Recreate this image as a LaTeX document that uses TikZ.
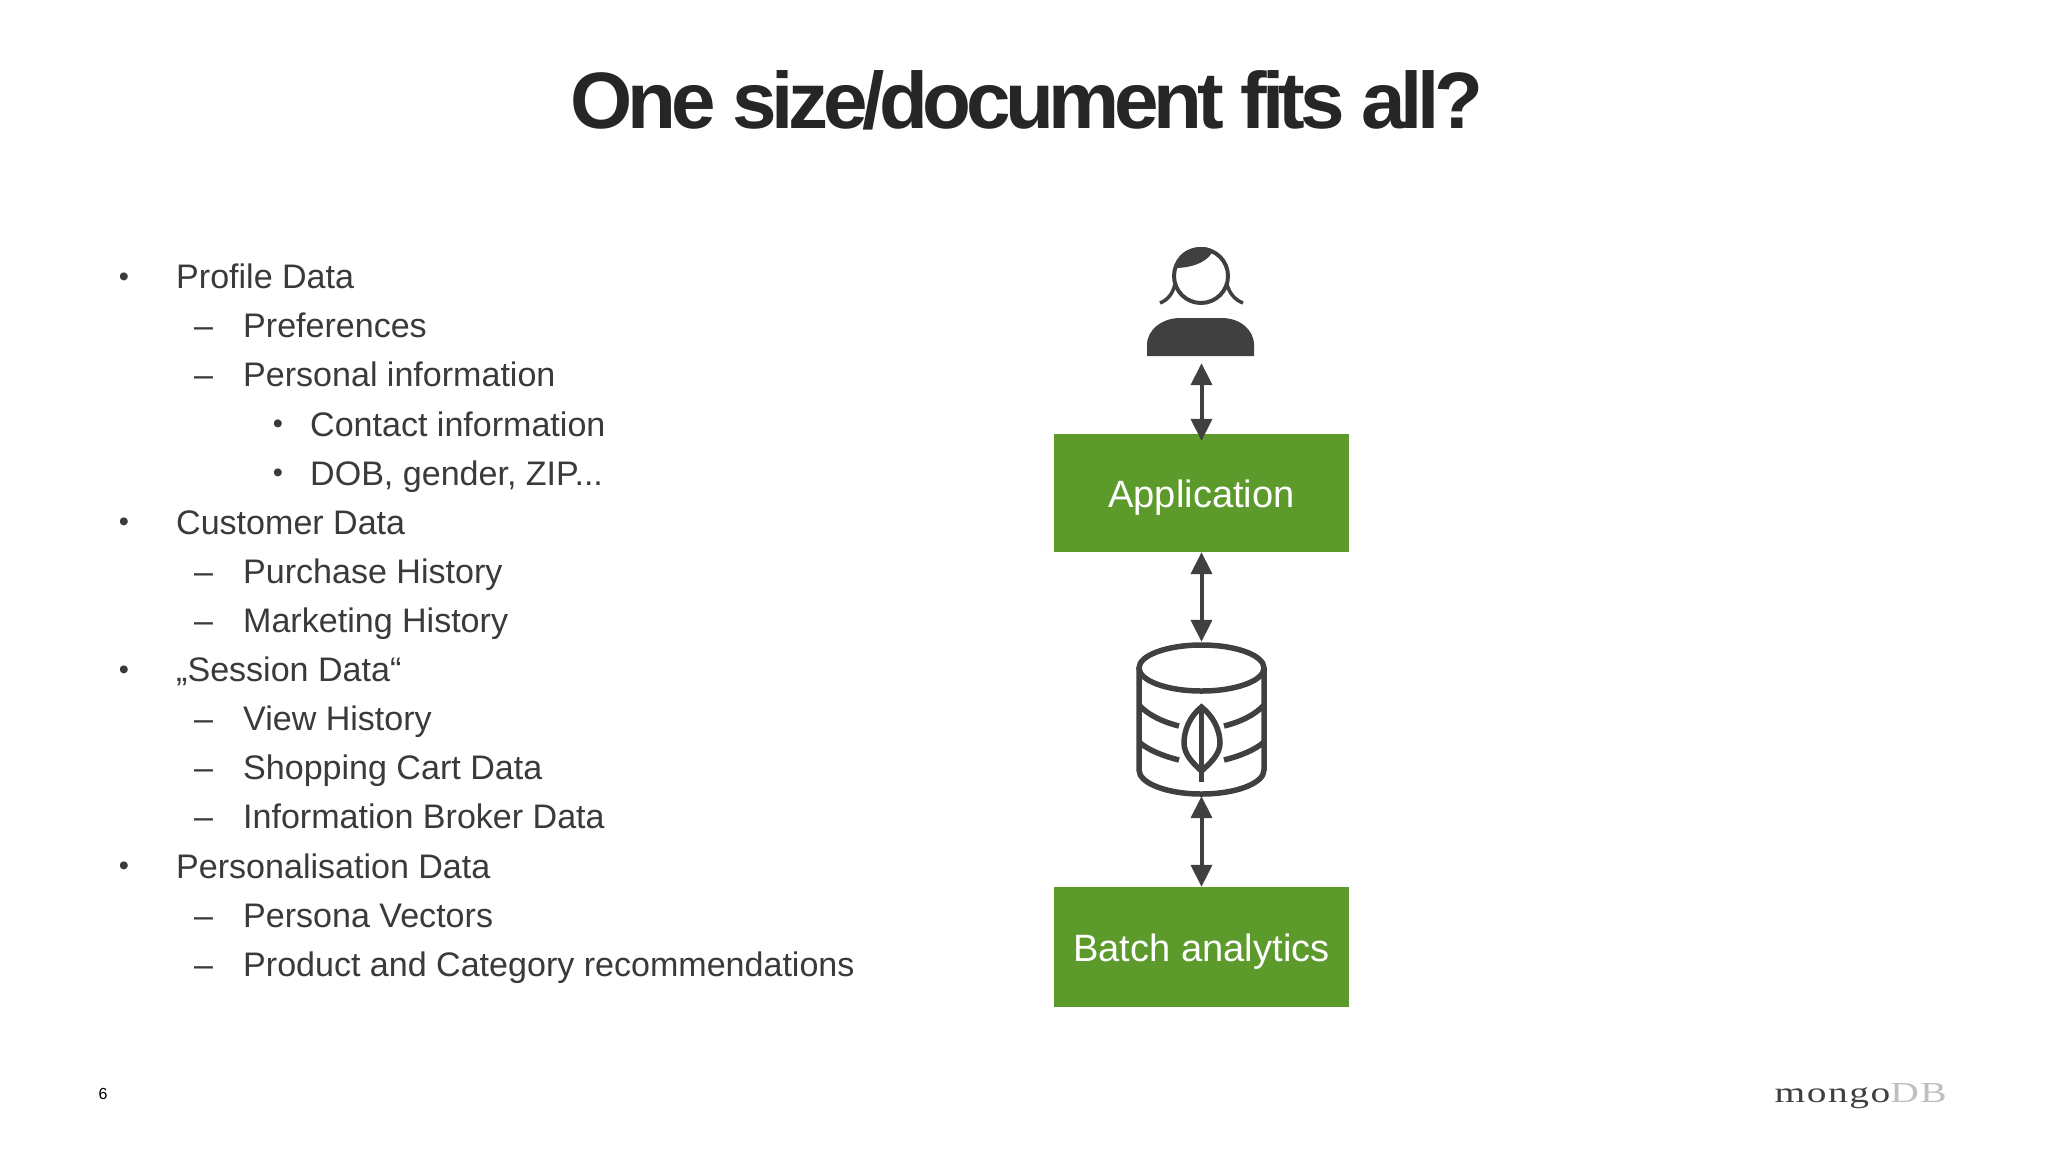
\documentclass[tikz,border=0pt]{standalone}
\usepackage{fontspec}
\setmainfont{Liberation Sans}
\newfontfamily\titlefont[LetterSpace=-6.7]{Liberation Sans}
\newfontfamily\logofont[LetterSpace=4]{Liberation Serif}
\usetikzlibrary{arrows.meta}
\definecolor{txt}{HTML}{3A3A3A}
\definecolor{ttl}{HTML}{262626}
\definecolor{grn}{HTML}{5C9A2C}
\definecolor{icon}{HTML}{404040}
\tikzset{
  lb/.style={anchor=base west,inner sep=0pt,text=txt,font=\fontsize{34.05}{40}\selectfont},
  bul/.style={anchor=base,inner sep=0pt,yshift=2.5pt,text=txt,font=\fontsize{29}{32}\selectfont},
  box/.style={fill=grn,minimum width=295.5pt,inner sep=0pt,text height=28pt,text depth=0pt,text=white,font=\fontsize{38.1}{44}\selectfont},
  dbl/.style={{Triangle[width=21pt,length=22pt]}-{Triangle[width=21pt,length=22pt]},draw=icon,line width=4pt},
  ico/.style={draw=icon,line width=5.5pt},
  dark/.style={fill=icon,draw=none}
}
\begin{document}
\begin{tikzpicture}[x=1pt,y=-1pt]
\useasboundingbox (0,0) rectangle (2048,1152);
\fill[white] (0,0) rectangle (2048,1152);
\node[inner sep=0pt,text=ttl,font=\titlefont\bfseries\fontsize{80}{90}\selectfont,anchor=base] (title) at (1027,128) {One size/document fits all?};
% list
\foreach \n/\yy/\txt in {a/288.5/Profile Data,f/534/Customer Data,i/681.6/„Session Data“,m/878/Personalisation Data}{
  \node[bul] (b\n) at (124,\yy) {•};
  \node[lb] (t\n) at (176,\yy) {\txt};
}
\foreach \n/\yy/\txt in {b/337.6/Preferences,c/386.8/Personal information,g/583.1/Purchase History,h/632.3/Marketing History,j/730.7/View History,k/779.8/Shopping Cart Data,l/828.9/Information Broker Data,n/927/Persona Vectors,o/976/Product and Category recommendations}{
  \node[lb] (b\n) at (194,\yy) {–};
  \node[lb] (t\n) at (243,\yy) {\txt};
}
\foreach \n/\yy/\txt in {d/436/Contact information,e/485/{DOB, gender, ZIP...}}{
  \node[bul] (b\n) at (278,\yy) {•};
  \node[lb] (t\n) at (310,\yy) {\txt};
}
% boxes
\node[box,minimum height=118pt] (app) at (1201.5,493) {Application};
\node[box,minimum height=120pt] (batch) at (1201.5,947) {Batch analytics};
% anchors for the icons
\node[inner sep=0pt,minimum width=107pt,minimum height=118pt] (user) at (1201.5,304) {};
\node[inner sep=0pt,minimum width=130pt,minimum height=154pt] (db) at (1201.5,719) {};
% user icon
\draw[ico,line width=4pt] (1201,276) circle (27pt);
\path[dark] (1174.5,268) .. controls (1176,255) and (1188,247) .. (1201,247) .. controls (1206,247) and (1210,248) .. (1213,250) .. controls (1210,260) and (1195,268) .. (1174.5,268) -- cycle;
\draw[ico,line width=3.5pt] (1160,303) .. controls (1168,300) and (1173,293) .. (1175,284);
\draw[ico,line width=3.5pt] (1243,303) .. controls (1235,300) and (1229,293) .. (1227,284);
\path[dark] (1147,356) -- (1147,345) .. controls (1147,329) and (1163,318) .. (1180,318) -- (1222,318) .. controls (1239,318) and (1254,329) .. (1254,345) -- (1254,356) -- cycle;
% database icon
\draw[ico] (1201.5,668) ellipse [x radius=62.5pt,y radius=23pt];
\draw[ico] (1139,668) -- (1139,770) arc[start angle=180,end angle=360,x radius=62.5pt,y radius=24pt] -- (1264,668);
\draw[ico] (1139,705) .. controls (1148,715) and (1163,722) .. (1179,726);
\draw[ico] (1139,742) .. controls (1148,750) and (1163,756) .. (1179,760);
\draw[ico] (1264,705) .. controls (1255,715) and (1240,722) .. (1224,726);
\draw[ico] (1264,742) .. controls (1255,750) and (1240,756) .. (1224,760);
\draw[ico] (1201.5,707) .. controls (1190,716) and (1184,730) .. (1184,743) .. controls (1184,755) and (1194,764) .. (1201.5,771) .. controls (1209,764) and (1220,755) .. (1220,743) .. controls (1220,730) and (1213,716) .. (1201.5,707) -- cycle;
\draw[ico] (1201.5,707) -- (1201.5,782);
% connectors
\draw[dbl,shorten >=-7pt,shorten <=0pt] (user.south) -- (app.north);
\draw[dbl] (app.south) -- (db.north);
\draw[dbl] (db.south) -- (batch.north);
% footer
\node[inner sep=0pt,anchor=base,text=black,font=\fontsize{16}{18}\selectfont] (page) at (103,1099) {6};
\node[inner sep=0pt,anchor=base east,font=\logofont\fontsize{29}{34}\selectfont] (logo) at (1947,1102) {\scalebox{1.36}[1]{\textcolor{icon}{mongo}\textcolor{gray!50}{DB}}};
\end{tikzpicture}
\end{document}
